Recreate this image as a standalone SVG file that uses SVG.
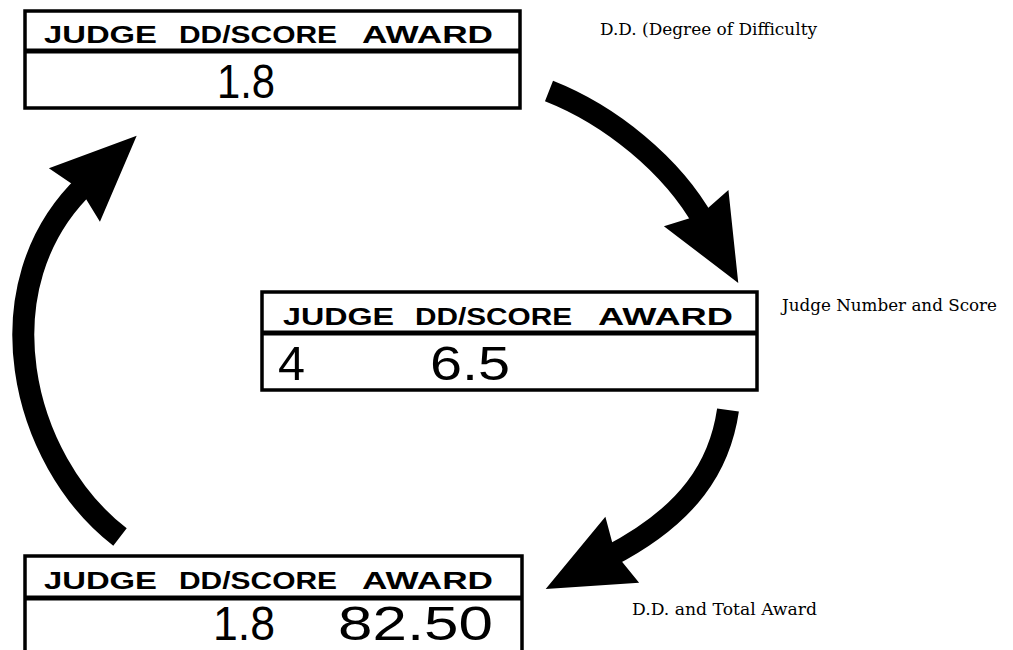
<svg xmlns="http://www.w3.org/2000/svg" width="1013" height="650" viewBox="0 0 1013 650">
<defs>
<style>
.box{fill:#fff;stroke:#000;stroke-width:3.5}
.div{stroke:#000;stroke-width:5}
.hdr{font-family:"Liberation Sans",Arial,sans-serif;font-weight:bold;font-size:24px;fill:#000}
.lcd{font-family:"Liberation Sans",Arial,sans-serif;font-weight:normal;font-size:48px;fill:#000}
.lbl{font-family:"DejaVu Serif","Liberation Serif",serif;font-size:16px;fill:#000}
.shaft{fill:none;stroke:#000;stroke-width:22;stroke-linecap:butt}
</style>
<marker id="head" markerUnits="userSpaceOnUse" orient="auto" markerWidth="100" markerHeight="90" refX="10" refY="0" viewBox="-10 -45 100 90" overflow="visible">
<path d="M-6,-37 L80,0 L-6,37 L2,0 Z" fill="#000"/>
</marker>
</defs>
<rect width="1013" height="650" fill="#fff"/>

<g id="connectors">
<path class="shaft" d="M549,91 C610,115 672,165 704,222" marker-end="url(#head)"/>
<path class="shaft" d="M728,410 C720,465 690,515 608,557" marker-end="url(#head)"/>
<path class="shaft" d="M120,537 C20,460 -20,285 86,184" marker-end="url(#head)"/>
</g>

<g id="node-top">
<rect class="box" x="25" y="11" width="495" height="97"/>
<line class="div" x1="25" y1="51" x2="520" y2="51"/>
<text class="hdr" x="44" y="43" textLength="113" lengthAdjust="spacingAndGlyphs">JUDGE</text>
<text class="hdr" x="179" y="43" textLength="158" lengthAdjust="spacingAndGlyphs">DD/SCORE</text>
<text class="hdr" x="362" y="43" textLength="131" lengthAdjust="spacingAndGlyphs">AWARD</text>
<text class="lcd" x="217" y="98" textLength="58" lengthAdjust="spacingAndGlyphs">1.8</text>
</g>

<g id="node-middle">
<rect class="box" x="262" y="292" width="495" height="98"/>
<line class="div" x1="262" y1="333" x2="757" y2="333"/>
<text class="hdr" x="283" y="325" textLength="111" lengthAdjust="spacingAndGlyphs">JUDGE</text>
<text class="hdr" x="415" y="325" textLength="157" lengthAdjust="spacingAndGlyphs">DD/SCORE</text>
<text class="hdr" x="598" y="325" textLength="135" lengthAdjust="spacingAndGlyphs">AWARD</text>
<text class="lcd" x="278" y="380" textLength="27" lengthAdjust="spacingAndGlyphs">4</text>
<text class="lcd" x="430" y="380" textLength="80" lengthAdjust="spacingAndGlyphs">6.5</text>
</g>

<g id="node-bottom">
<rect class="box" x="25" y="556" width="497" height="110"/>
<line class="div" x1="25" y1="598" x2="522" y2="598"/>
<text class="hdr" x="44" y="589" textLength="113" lengthAdjust="spacingAndGlyphs">JUDGE</text>
<text class="hdr" x="179" y="589" textLength="158" lengthAdjust="spacingAndGlyphs">DD/SCORE</text>
<text class="hdr" x="362" y="589" textLength="131" lengthAdjust="spacingAndGlyphs">AWARD</text>
<text class="lcd" x="213" y="640" textLength="62" lengthAdjust="spacingAndGlyphs">1.8</text>
<text class="lcd" x="338" y="640" textLength="155" lengthAdjust="spacingAndGlyphs">82.50</text>
</g>

<g id="labels">
<text class="lbl" x="600" y="35" textLength="217" lengthAdjust="spacingAndGlyphs">D.D. (Degree of Difficulty</text>
<text class="lbl" x="782" y="311" textLength="215" lengthAdjust="spacingAndGlyphs">Judge Number and Score</text>
<text class="lbl" x="632" y="615" textLength="185" lengthAdjust="spacingAndGlyphs">D.D. and Total Award</text>
</g>
</svg>
